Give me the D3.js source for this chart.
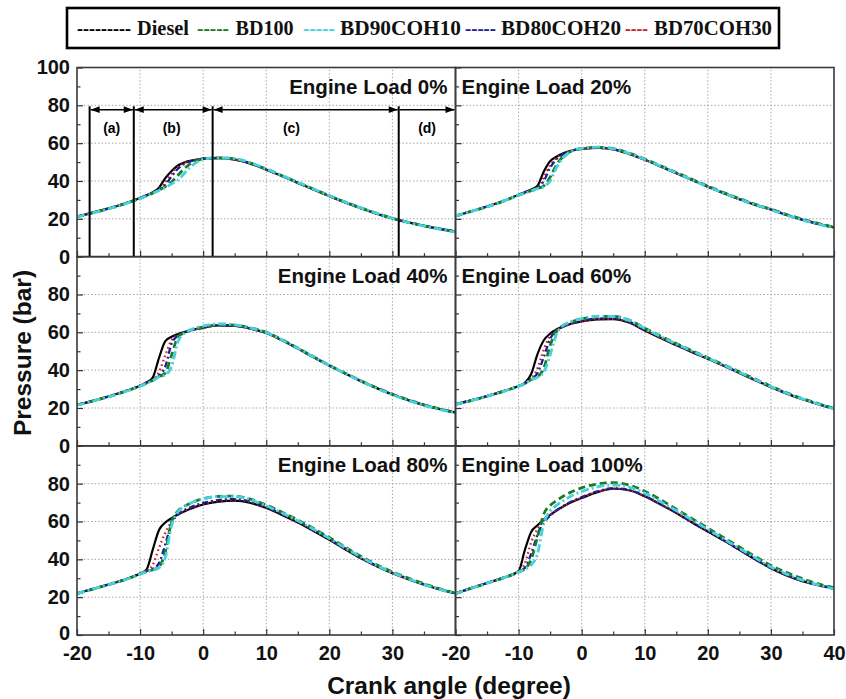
<!DOCTYPE html>
<html>
<head>
<meta charset="utf-8">
<script src="https://cdn.jsdelivr.net/npm/d3@7"></script>
<style>
  body { margin: 0; background: #fff; }
  svg { display: block; }
</style>
</head>
<body>
<svg id="chart" width="846" height="699"></svg>
<script>
// ---- data ---------------------------------------------------------------
const fuels = ["Diesel", "BD100", "BD90COH10", "BD80COH20", "BD70COH30"];

// crank angle grid (degree), finer around ignition
const angles = [-20, -17.5, -15, -12.5, -10, -9, -8, -7, -6, -5, -4, -3, -2, -1, 0,
  2.5, 5, 7.5, 10, 12.5, 15, 17.5, 20, 22.5, 25, 27.5, 30, 32.5, 35, 37.5, 40];

// cylinder pressure (bar) per fuel, one table per engine load
const load0 = {
  Diesel:    [21.2,23.3,25.5,28.0,31.0,32.4,34.0,36.5,41.5,45.3,48.2,49.8,50.7,51.3,51.8,52.1,51.3,49.2,46.0,42.6,39.0,35.5,32.0,28.7,25.6,22.7,20.2,18.1,16.3,14.7,13.3],
  BD100:     [21.1,23.2,25.4,27.9,30.8,32.2,33.6,35.3,37.0,39.5,43.0,46.5,49.2,50.8,51.7,52.2,51.6,49.5,46.3,42.8,39.2,35.7,32.2,28.9,25.8,22.9,20.3,18.2,16.3,14.7,13.3],
  BD90COH10: [21.0,23.1,25.3,27.8,30.7,32.1,33.5,35.0,36.5,38.5,40.5,44.0,47.5,50.0,51.5,52.3,51.8,49.7,46.4,42.9,39.3,35.8,32.2,28.9,25.8,22.9,20.3,18.1,16.2,14.5,13.0],
  BD80COH20: [21.2,23.3,25.5,28.0,31.0,32.4,33.8,35.5,38.0,42.5,46.5,49.0,50.4,51.2,51.8,52.2,51.5,49.4,46.2,42.7,39.1,35.6,32.1,28.8,25.7,22.8,20.3,18.2,16.3,14.6,13.2],
  BD70COH30: [21.2,23.3,25.5,28.0,31.0,32.4,33.9,35.8,39.5,44.0,47.5,49.5,50.6,51.3,51.8,52.1,51.4,49.3,46.1,42.6,39.0,35.5,32.0,28.7,25.6,22.7,20.2,18.1,16.3,14.7,13.3]
};
const load20 = {
  Diesel:    [21.6,24.0,26.5,29.3,32.7,34.0,35.5,37.5,45.0,50.5,52.8,54.5,55.7,56.5,57.0,57.5,56.7,54.3,51.2,47.7,44.1,40.5,37.0,33.6,30.4,27.4,24.9,22.0,19.5,17.3,15.4],
  BD100:     [21.5,23.9,26.4,29.2,32.5,33.7,34.9,36.0,37.5,42.0,48.5,52.8,55.2,56.5,57.2,57.8,57.1,54.8,51.6,48.1,44.5,40.9,37.3,33.9,30.7,27.7,25.1,22.3,19.8,17.6,15.6],
  BD90COH10: [21.5,23.9,26.4,29.2,32.5,33.6,34.8,36.0,37.0,40.0,47.0,52.0,55.0,56.5,57.3,57.9,57.0,54.6,51.4,47.9,44.3,40.6,37.0,33.6,30.4,27.4,24.8,21.9,19.4,17.2,15.2],
  BD80COH20: [21.6,24.0,26.5,29.3,32.7,34.0,35.2,36.5,40.0,47.0,51.5,54.0,55.4,56.4,57.0,57.6,56.9,54.5,51.3,47.8,44.2,40.6,37.0,33.6,30.4,27.4,24.9,22.0,19.5,17.3,15.4],
  BD70COH30: [21.6,24.0,26.5,29.3,32.7,34.0,35.3,36.8,42.0,48.5,52.3,54.2,55.5,56.4,57.0,57.5,56.8,54.4,51.3,47.8,44.2,40.6,37.0,33.6,30.4,27.4,24.9,22.0,19.5,17.3,15.4]
};
const load40 = {
  Diesel:    [21.7,23.8,26.1,28.7,31.8,33.5,36.0,46.5,55.3,57.7,59.1,60.2,61.1,61.8,62.4,63.6,63.4,61.9,59.6,55.8,51.4,46.8,42.4,38.2,34.2,30.5,27.1,24.1,21.5,19.4,17.6],
  BD100:     [21.6,23.7,26.0,28.6,31.6,33.1,34.6,36.5,38.5,48.0,57.5,59.8,61.2,62.0,62.7,64.0,63.8,62.3,60.0,56.1,51.7,47.1,42.6,38.4,34.4,30.7,27.3,24.3,21.7,19.5,17.7],
  BD90COH10: [21.5,23.6,25.9,28.5,31.5,33.0,34.5,36.5,37.5,42.0,55.0,59.5,61.3,62.5,63.3,64.5,64.0,62.3,59.9,56.0,51.6,47.0,42.5,38.2,34.2,30.4,27.0,24.0,21.4,19.2,17.4],
  BD80COH20: [21.7,23.8,26.1,28.7,31.8,33.3,34.8,37.0,42.0,54.0,58.2,59.9,61.0,61.8,62.5,63.8,63.6,62.1,59.8,55.9,51.5,46.9,42.5,38.3,34.3,30.6,27.2,24.2,21.6,19.4,17.6],
  BD70COH30: [21.7,23.8,26.1,28.7,31.8,33.3,35.0,39.0,48.0,56.0,58.5,60.0,61.0,61.8,62.4,63.7,63.5,62.0,59.7,55.8,51.4,46.8,42.4,38.2,34.2,30.5,27.1,24.1,21.5,19.4,17.6]
};
const load60 = {
  Diesel:    [22.0,24.0,26.3,28.8,31.6,33.3,38.0,48.5,55.8,59.3,61.5,63.0,64.2,65.1,65.8,66.8,67.0,65.2,61.0,57.0,53.2,49.5,46.0,42.3,38.5,34.7,31.0,27.6,24.6,22.0,19.6],
  BD100:     [21.9,23.9,26.2,28.7,31.5,32.9,35.0,36.5,41.0,53.0,60.5,63.5,65.0,66.2,67.0,68.3,68.4,66.5,62.2,58.0,54.1,50.3,46.6,42.9,39.1,35.3,31.5,28.0,25.0,22.3,19.8],
  BD90COH10: [21.9,23.9,26.2,28.7,31.5,32.9,35.0,36.2,39.0,48.0,59.0,63.5,65.3,66.5,67.3,68.5,68.4,66.3,62.0,57.8,53.9,50.1,46.4,42.7,38.9,35.1,31.3,27.8,24.8,22.1,19.5],
  BD80COH20: [22.0,24.0,26.3,28.8,31.6,33.0,35.2,38.5,47.0,56.5,61.0,62.9,64.3,65.3,66.1,67.3,67.4,65.6,61.4,57.4,53.5,49.8,46.2,42.5,38.7,34.9,31.2,27.8,24.8,22.1,19.7],
  BD70COH30: [22.0,24.0,26.3,28.8,31.6,33.1,35.5,41.0,51.0,58.0,61.0,62.8,64.1,65.1,65.8,66.9,67.1,65.3,61.1,57.1,53.3,49.6,46.0,42.3,38.5,34.7,31.0,27.6,24.6,22.0,19.6]
};
const load80 = {
  Diesel:    [22.0,24.3,26.7,29.2,32.5,34.5,45.0,55.5,59.5,61.8,63.7,65.3,66.7,68.0,69.0,70.5,71.0,69.8,67.1,63.5,59.5,55.0,50.3,45.3,40.5,36.3,32.7,29.5,26.6,24.1,22.0],
  BD100:     [21.9,24.2,26.6,29.1,32.2,33.5,34.5,36.0,44.0,60.0,65.5,68.0,69.7,71.0,72.0,73.3,73.4,71.8,68.7,64.9,60.8,56.3,51.5,46.5,41.6,37.2,33.4,30.1,27.1,24.4,22.1],
  BD90COH10: [21.9,24.2,26.6,29.1,32.2,33.5,34.3,35.5,41.0,58.0,65.0,67.8,69.7,71.0,72.0,73.2,73.2,71.5,68.3,64.5,60.4,55.9,51.1,46.1,41.2,36.8,33.0,29.7,26.7,24.1,21.8],
  BD80COH20: [22.0,24.3,26.7,29.2,32.4,33.8,35.0,38.0,48.0,59.0,63.8,66.0,67.5,68.8,69.8,71.4,71.8,70.5,67.6,64.0,60.0,55.5,50.8,45.8,41.0,36.7,33.0,29.8,26.8,24.2,22.0],
  BD70COH30: [22.0,24.3,26.7,29.2,32.5,34.0,37.0,46.0,54.0,60.0,63.5,65.5,67.0,68.3,69.3,70.9,71.4,70.1,67.3,63.7,59.7,55.2,50.5,45.5,40.7,36.4,32.8,29.6,26.7,24.2,22.0]
};
const load100 = {
  Diesel:    [22.0,24.8,27.5,30.2,33.8,45.0,54.5,58.0,61.0,63.5,65.8,67.8,69.6,71.1,72.4,75.5,77.3,76.5,73.3,69.0,64.5,59.5,54.7,50.0,45.0,40.0,35.3,31.5,28.5,26.4,24.7],
  BD100:     [21.9,24.7,27.4,30.1,33.3,35.0,40.0,52.0,64.0,68.5,71.0,73.2,75.0,76.5,77.8,79.8,80.5,79.3,76.0,71.5,66.5,61.5,56.5,51.5,46.5,41.5,36.8,33.0,29.8,27.0,25.0],
  BD90COH10: [21.9,24.7,27.4,30.1,33.3,34.8,37.0,43.0,59.0,65.5,68.5,70.8,72.8,74.5,75.8,78.3,79.3,78.2,75.0,70.5,65.8,60.8,55.8,50.8,45.8,40.8,36.0,32.2,29.0,26.5,24.3],
  BD80COH20: [22.0,24.8,27.5,30.2,33.5,35.5,43.0,53.0,59.5,63.0,65.8,68.0,69.9,71.5,72.9,76.0,77.6,76.7,73.5,69.2,64.7,59.7,54.9,50.1,45.1,40.1,35.4,31.6,28.6,26.3,24.6],
  BD70COH30: [22.0,24.8,27.5,30.2,33.6,38.0,49.0,56.0,60.5,63.3,65.7,67.8,69.6,71.2,72.6,75.7,77.4,76.6,73.4,69.1,64.6,59.6,54.8,50.0,45.0,40.0,35.3,31.5,28.5,26.3,24.6]
};

const loadTables = [load0, load20, load40, load60, load80, load100];
const loadTitles = ["Engine Load 0%", "Engine Load 20%", "Engine Load 40%",
                    "Engine Load 60%", "Engine Load 80%", "Engine Load 100%"];

const xTickValues = [-20, -10, 0, 10, 20, 30, 40];
const xMinorValues = [-15, -5, 5, 15, 25, 35];
const yTickValues = [0, 20, 40, 60, 80, 100];
const yMinorValues = [10, 30, 50, 70, 90];

// combustion phases marked on the 0% load panel
const phaseLabels = ["(a)", "(b)", "(c)", "(d)"];
const phaseBounds = [-18, -11, 1.5, 31, 40];
const phaseLabelAngles = [-14.5, -5, 14, 35.5];

// ---- layout & styles ----------------------------------------------------
const plotLeft = 77, plotRight = 834, plotTop = 67.5, plotBottom = 635;
const pw = (plotRight - plotLeft) / 2;
const ph = (plotBottom - plotTop) / 3;
const sans = "'Liberation Sans', Arial, Helvetica, sans-serif";
const serif = "'Liberation Serif', 'Times New Roman', serif";

const fuelStyle = {
  Diesel:    { color: "#000000", dash: null,      width: 2.2 },
  BD100:     { color: "#1c7a26", dash: "7,4",     width: 2.8 },
  BD90COH10: { color: "#45d2dc", dash: "8,3,2,3", width: 2.8 },
  BD80COH20: { color: "#1e1e98", dash: "6,3,2,3", width: 2.3 },
  BD70COH30: { color: "#c9232c", dash: "1.6,3",   width: 2.3 }
};
const drawOrder = ["Diesel", "BD70COH30", "BD80COH20", "BD100", "BD90COH10"];
const fmtTick = d => String(d);

const svg = d3.select("#chart");
svg.append("rect").attr("width", 846).attr("height", 699).attr("fill", "#fff");
const defs = svg.append("defs");

loadTables.forEach((table, i) => {
  const col = i % 2, row = Math.floor(i / 2);
  const x0 = plotLeft + col * pw, y0 = plotTop + row * ph;
  const x = d3.scaleLinear().domain([-20, 40]).range([x0, x0 + pw]);
  const y = d3.scaleLinear().domain([0, 100]).range([y0 + ph, y0]);
  const g = svg.append("g").attr("class", "panel");

  // dotted grid
  const grid = g.append("g").attr("stroke", "#a8a8a8").attr("stroke-width", 1)
    .attr("stroke-dasharray", "1.5,2");
  xTickValues.slice(1, -1).forEach(v => grid.append("line")
    .attr("x1", x(v)).attr("x2", x(v)).attr("y1", y(0)).attr("y2", y(100)));
  yTickValues.slice(1, -1).forEach(v => grid.append("line")
    .attr("x1", x(-20)).attr("x2", x(40)).attr("y1", y(v)).attr("y2", y(v)));

  // curves
  const clipId = "clip" + i;
  defs.append("clipPath").attr("id", clipId).append("rect")
    .attr("x", x0).attr("y", y0).attr("width", pw).attr("height", ph);
  const line = d3.line().x((d, k) => x(angles[k])).y(d => y(d)).curve(d3.curveMonotoneX);
  const curves = g.append("g").attr("clip-path", `url(#${clipId})`);
  drawOrder.forEach(f => {
    const s = fuelStyle[f];
    curves.append("path").datum(table[f]).attr("d", line)
      .attr("fill", "none").attr("stroke", s.color).attr("stroke-width", s.width)
      .attr("stroke-dasharray", s.dash).attr("stroke-linejoin", "round");
  });

  // axes: inward ticks, labels only on the outer edges
  const isBottom = row === 2;
  const xAxis = d3.axisBottom(x).tickValues(col === 0 ? xTickValues.slice(0, -1) : xTickValues)
    .tickSize(-6).tickPadding(11).tickFormat(isBottom ? fmtTick : () => "");
  const xa = g.append("g").attr("transform", `translate(0,${y(0)})`).call(xAxis);
  const xMinor = d3.axisBottom(x).tickValues(xMinorValues).tickSize(-3.5).tickFormat(() => "");
  const xm = g.append("g").attr("transform", `translate(0,${y(0)})`).call(xMinor);

  const yVals = row === 0 ? yTickValues : yTickValues.slice(0, -1);
  const yAxis = d3.axisLeft(y).tickValues(yVals).tickSize(-6).tickPadding(7)
    .tickFormat(col === 0 ? fmtTick : () => "");
  const ya = g.append("g").attr("transform", `translate(${x0},0)`).call(yAxis);
  const yMinor = d3.axisLeft(y).tickValues(yMinorValues).tickSize(-3.5).tickFormat(() => "");
  const ym = g.append("g").attr("transform", `translate(${x0},0)`).call(yMinor);

  [xa, xm, ya, ym].forEach(a => {
    a.select(".domain").remove();
    a.selectAll(".tick line").attr("stroke", "#333").attr("stroke-width", 1.2);
    a.selectAll("text").attr("font-family", sans).attr("font-weight", "bold")
      .attr("font-size", 20).attr("fill", "#111");
  });
  // lift the lowest y label a touch so it clears the x labels below it
  if (isBottom) ya.selectAll(".tick text").filter(d => d === 0).attr("dy", "0.2em");

  // frame
  g.append("rect").attr("x", x0).attr("y", y0).attr("width", pw).attr("height", ph)
    .attr("fill", "none").attr("stroke", "#3a3a3a").attr("stroke-width", 1.6);

  // panel title
  g.append("text")
    .attr("x", col === 0 ? x0 + pw - 8 : x0 + 6)
    .attr("y", y0 + 26)
    .attr("text-anchor", col === 0 ? "end" : "start")
    .attr("font-family", sans).attr("font-weight", "bold").attr("font-size", 20.5)
    .attr("fill", "#111").text(loadTitles[i]);

  // combustion phase markers
  if (i === 0) {
    const ann = g.append("g").attr("stroke", "#000").attr("fill", "#000");
    const yArrow = y(77.7);
    phaseBounds.slice(0, -1).forEach(b => ann.append("line")
      .attr("x1", x(b)).attr("x2", x(b)).attr("y1", y(79.5)).attr("y2", y(0))
      .attr("stroke-width", 2));
    const head = (xt, dir) => {
      const L = 9, h = 3.4;
      ann.append("path").attr("stroke", "none")
        .attr("d", `M${xt},${yArrow}L${xt - dir * L},${yArrow - h}L${xt - dir * L},${yArrow + h}Z`);
    };
    phaseLabels.forEach((lab, k) => {
      const a = x(phaseBounds[k]) + 1, b = x(phaseBounds[k + 1]) - 1;
      ann.append("line").attr("x1", a).attr("x2", b).attr("y1", yArrow).attr("y2", yArrow)
        .attr("stroke-width", 1.4);
      if (k < phaseLabels.length - 1) head(a, -1);
      head(b, 1);
      ann.append("text").attr("x", x(phaseLabelAngles[k])).attr("y", y(68))
        .attr("stroke", "none").attr("text-anchor", "middle").attr("dominant-baseline", "central")
        .attr("font-family", sans).attr("font-weight", "bold").attr("font-size", 14)
        .text(lab);
    });
  }
});

// axis titles
svg.append("text").attr("transform", "translate(31,353) rotate(-90)")
  .attr("text-anchor", "middle").attr("font-family", sans).attr("font-weight", "bold")
  .attr("font-size", 24.5).attr("fill", "#111").text("Pressure (bar)");
svg.append("text").attr("x", 449).attr("y", 694)
  .attr("text-anchor", "middle").attr("font-family", sans).attr("font-weight", "bold")
  .attr("font-size", 24.5).attr("fill", "#111").text("Crank angle (degree)");

// legend
const legend = svg.append("g");
legend.append("rect").attr("x", 67).attr("y", 8).attr("width", 712).attr("height", 40)
  .attr("fill", "#fff").attr("stroke", "#000").attr("stroke-width", 2.6);
const legendItems = [
  { fuel: "Diesel",    dashX: 77,  dashW: 54, dashes: "---------", textX: 137,   textW: 52 },
  { fuel: "BD100",     dashX: 197, dashW: 32, dashes: "-----",     textX: 235.5, textW: 58 },
  { fuel: "BD90COH10", dashX: 303, dashW: 32, dashes: "-----",     textX: 340,   textW: 121 },
  { fuel: "BD80COH20", dashX: 465, dashW: 31, dashes: "-----",     textX: 501,   textW: 120 },
  { fuel: "BD70COH30", dashX: 625, dashW: 23, dashes: "----",      textX: 654,   textW: 118 }
];
legendItems.forEach(it => {
  legend.append("text").attr("x", it.dashX).attr("y", 35)
    .attr("textLength", it.dashW).attr("lengthAdjust", "spacingAndGlyphs")
    .attr("font-family", serif).attr("font-weight", "bold").attr("font-size", 21)
    .attr("fill", fuelStyle[it.fuel].color).text(it.dashes);
  legend.append("text").attr("x", it.textX).attr("y", 35)
    .attr("textLength", it.textW).attr("lengthAdjust", "spacingAndGlyphs")
    .attr("font-family", serif).attr("font-weight", "bold").attr("font-size", 21)
    .attr("fill", "#111").text(it.fuel);
});
</script>
</body>
</html>
